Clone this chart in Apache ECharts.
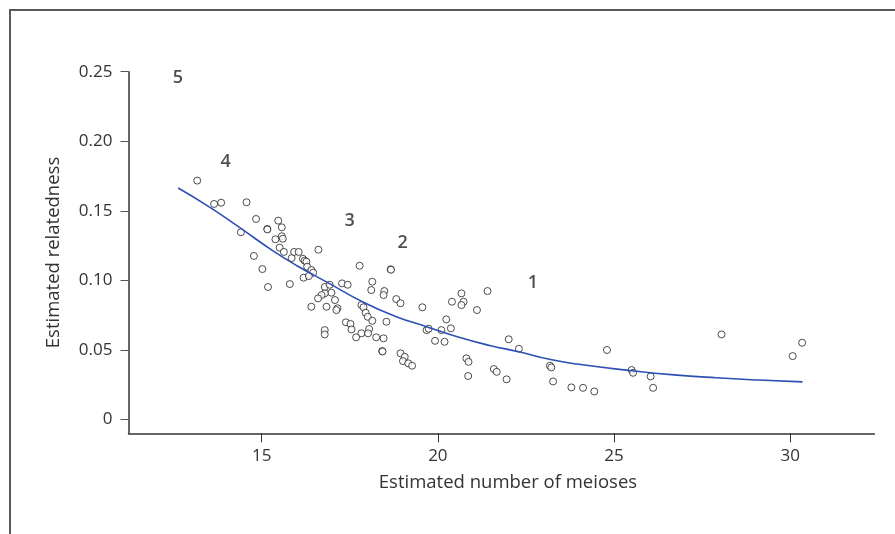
<!DOCTYPE html>
<html>
<head>
<meta charset="utf-8">
<script src="https://cdn.jsdelivr.net/npm/echarts@6/dist/echarts.min.js"></script>
<style>
    html, body { margin: 0; padding: 0; background: #fff; }
    #main { width: 895px; height: 534px; }
</style>
</head>
<body>
<div id="main"></div>
<script type="text/javascript">
    // points: estimated number of meioses vs estimated relatedness
    var meiosesX = [13.17, 13.65, 13.85, 14.57, 14.84, 14.41, 15.16, 15.16, 15.47, 15.57,
        15.39, 15.57, 15.60, 15.51, 15.63, 14.78, 15.02, 15.85, 15.92, 16.05,
        16.61, 16.17, 16.22, 16.27, 16.29, 16.41, 16.46, 16.19, 16.34, 15.18,
        15.80, 16.79, 17.78, 18.66, 18.67, 17.28, 17.44, 16.93, 18.14, 18.11,
        18.48, 18.46, 18.82, 18.94, 19.56, 20.40, 16.98, 16.79, 16.70, 16.60,
        17.08, 16.41, 16.84, 17.15, 17.12, 17.83, 17.89, 17.95, 18.01, 18.14,
        18.54, 17.39, 17.52, 17.55, 16.79, 16.79, 17.83, 18.05, 18.02, 17.68,
        18.25, 18.46, 18.42, 18.43, 18.94, 19.06, 19.01, 19.16, 19.27, 19.68,
        19.74, 19.92, 20.19, 20.10, 20.24, 20.37, 20.67, 20.73, 20.67, 21.41,
        21.11, 22.01, 22.30, 20.81, 20.87, 20.86, 21.59, 21.67, 21.95, 23.18,
        23.22, 23.27, 23.79, 24.12, 24.44, 24.80, 25.50, 25.54, 26.04, 26.11,
        28.05, 30.07, 30.34];
    var relatednessY = [0.1717, 0.1549, 0.1558, 0.1561, 0.1441, 0.1345, 0.1369, 0.1366, 0.1429, 0.1381,
        0.1295, 0.1317, 0.1299, 0.1235, 0.1204, 0.1175, 0.1081, 0.1160, 0.1204, 0.1204,
        0.1220, 0.1155, 0.1141, 0.1134, 0.1098, 0.1074, 0.1055, 0.1019, 0.1031, 0.0952,
        0.0973, 0.0952, 0.1105, 0.1079, 0.1076, 0.0978, 0.0968, 0.0968, 0.0990, 0.0930,
        0.0923, 0.0894, 0.0865, 0.0835, 0.0806, 0.0846, 0.0911, 0.0906, 0.0894, 0.0870,
        0.0858, 0.0810, 0.0810, 0.0799, 0.0786, 0.0822, 0.0806, 0.0767, 0.0738, 0.0709,
        0.0702, 0.0698, 0.0686, 0.0647, 0.0642, 0.0611, 0.0619, 0.0650, 0.0619, 0.0590,
        0.0590, 0.0583, 0.0491, 0.0488, 0.0475, 0.0450, 0.0419, 0.0403, 0.0386, 0.0642,
        0.0652, 0.0565, 0.0558, 0.0642, 0.0719, 0.0655, 0.0906, 0.0846, 0.0822, 0.0923,
        0.0786, 0.0576, 0.0508, 0.0439, 0.0414, 0.0312, 0.0362, 0.0342, 0.0288, 0.0386,
        0.0374, 0.0273, 0.0230, 0.0227, 0.0201, 0.0499, 0.0355, 0.0335, 0.0309, 0.0227,
        0.0611, 0.0455, 0.0551];

    // fitted curve
    var fitX = [12.63, 13.5, 14.4, 15.3, 16.0, 16.9, 17.9, 18.8, 19.7, 20.6, 21.5, 22.3, 23.2, 24.0, 25.5, 26.7, 27.9, 29.1, 30.35];
    var fitY = [0.1664, 0.1530, 0.1375, 0.1215, 0.1105, 0.0980, 0.0840, 0.0740, 0.0665, 0.0590, 0.0530, 0.0486, 0.0430, 0.0396, 0.0350, 0.0320, 0.0299, 0.0283, 0.0270];

    // numbers written on the plot
    var groupText = ['5', '4', '3', '2', '1'];
    var groupX = [12.62, 13.98, 17.50, 19.00, 22.70];
    var groupY = [0.2457, 0.1853, 0.1430, 0.1270, 0.0984];

    var xTicks = [15, 20, 25, 30];
    var yTicks = [0, 0.05, 0.10, 0.15, 0.20, 0.25];

    var pts = [];
    meiosesX.forEach(function (v, k) {
        pts.push([v, relatednessY[k]]);
    });
    var fit = [];
    fitX.forEach(function (v, k) {
        fit.push([v, fitY[k]]);
    });
    var groups = [];
    groupX.forEach(function (v, k) {
        groups.push({ name: groupText[k], value: [v, groupY[k]] });
    });

    var font = '"Open Sans", "Noto Sans", sans-serif';
    var myChart = echarts.init(document.getElementById('main'));
    var option = {
        animation: false,
        textStyle: { fontFamily: font },
        grid: {
            left: 128.5,
            right: 20.6,
            top: 71.7,
            bottom: 100.7
        },
        graphic: [
            {
                type: 'polyline',
                silent: true,
                shape: { points: [[10, 534], [10, 10], [895, 10]] },
                style: { stroke: '#595959', lineWidth: 2, fill: null }
            }
        ],
        xAxis: {
            type: 'value',
            min: 11.22,
            max: 32.39,
            name: 'Estimated number of meioses',
            nameLocation: 'middle',
            nameGap: 40,
            nameTextStyle: { fontSize: 18.5, color: '#333', fontFamily: font, padding: [0, 0, 0, 13] },
            splitLine: { show: false },
            axisLine: { onZero: false, lineStyle: { color: '#333', width: 1.5 } },
            axisTick: { customValues: xTicks, length: 9, lineStyle: { color: '#333' } },
            axisLabel: { customValues: xTicks, fontSize: 17, color: '#333', margin: 14 }
        },
        yAxis: {
            type: 'value',
            min: -0.01,
            max: 0.25,
            name: 'Estimated relatedness',
            nameLocation: 'middle',
            nameGap: 65,
            nameTextStyle: { fontSize: 18.5, color: '#333', fontFamily: font },
            splitLine: { show: false },
            axisLine: { show: true, onZero: false, lineStyle: { color: '#333', width: 1.5 } },
            axisTick: { show: true, customValues: yTicks, length: 8, lineStyle: { color: '#555' } },
            axisLabel: {
                customValues: yTicks,
                fontSize: 17,
                color: '#333',
                margin: 16,
                formatter: function (v) {
                    return v === 0 ? '0' : v.toFixed(2);
                }
            }
        },
        series: [
            {
                type: 'scatter',
                data: pts,
                symbol: 'circle',
                symbolSize: 7,
                itemStyle: { color: '#fff', borderColor: '#222', borderWidth: 1 },
                z: 3
            },
            {
                type: 'line',
                data: fit,
                smooth: true,
                symbol: 'none',
                lineStyle: { color: '#2b4fb3', width: 1.6 },
                z: 4
            },
            {
                type: 'scatter',
                data: groups,
                symbolSize: 0,
                label: {
                    show: true,
                    position: 'inside',
                    formatter: '{b}',
                    fontSize: 18,
                    fontWeight: 600,
                    color: '#222',
                    fontFamily: font
                }
            }
        ]
    };
    myChart.setOption(option);
</script>
</body>
</html>
